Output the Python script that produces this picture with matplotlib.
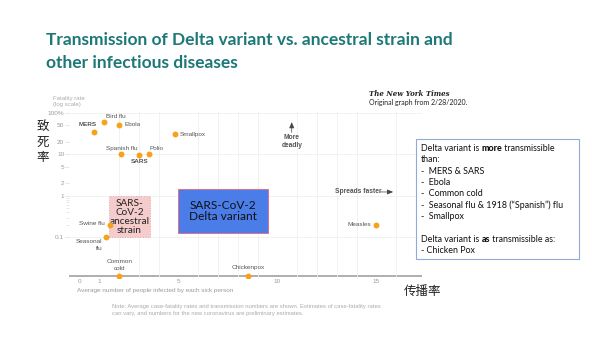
import numpy as np
import matplotlib
matplotlib.use('Agg')
import matplotlib.pyplot as plt
from matplotlib.patches import Rectangle
from matplotlib.ticker import FixedLocator, NullFormatter

# data (transmission number, fatality rate %)
diseases = ['MERS', 'Bird flu', 'Ebola', 'Smallpox', 'Spanish flu', 'SARS', 'Polio',
            'Swine flu', 'Seasonal\nflu', 'Common\ncold', 'Chickenpox', 'Measles']
spread = [0.7, 1.2, 2.0, 4.8, 2.1, 3.0, 3.5, 1.5, 1.3, 2.0, 8.5, 15.0]
fatality = [35, 60, 52, 31, 10, 9.5, 10, 0.2, 0.1, 0.012, 0.012, 0.2]
near_zero = 0.012

# label placement (offset in pixels, alignment)
lab_off = [(3, 7), (2, 6), (5, 0), (5, 0), (0, 6), (0, -6), (0, 6),
           (-5, 1), (-3, -2), (0, 5), (0, 8), (-5, 0)]
lab_ha = ['right', 'left', 'left', 'left', 'center', 'center', 'left',
          'right', 'right', 'center', 'center', 'right']
lab_va = ['center', 'center', 'center', 'center', 'center', 'center', 'center',
          'center', 'top', 'bottom', 'center', 'center']
bold_labels = ['MERS', 'SARS']

yticks = [0.1, 1, 2, 5, 10, 20, 50, 100]
yticklabels = ['0.1', '1', '2', '5', '10', '20', '50', '100%']
xticks = [0, 1, 5, 10, 15]

W, H = 614, 347
def fx(x):
    return x / W
def fy(y):
    return 1 - y / H

fig = plt.figure(figsize=(6.14, 3.47), dpi=100)
fig.patch.set_facecolor('white')

# axes placed so that x: 0 -> 80px, 19.75px/unit ; y: 100 -> 113px, 41.5px/decade
ax = fig.add_axes([fx(69.1), fy(278.1), (421.7 - 69.1) / W, (278.1 - 112.1) / H])
ax.set_xlim(-0.55, 17.3)
ax.set_yscale('log')
ax.set_ylim(0.0105, 105)
for s in ax.spines.values():
    s.set_visible(False)

ax.set_xticks(xticks)
ax.set_xticklabels([str(t) for t in xticks])
ax.xaxis.set_minor_locator(FixedLocator(range(0, 17)))
ax.xaxis.set_minor_formatter(NullFormatter())
ax.tick_params(axis='x', which='both', length=0, pad=0.5, labelsize=4.6, labelcolor='#9a9a9a')
ax.grid(axis='x', which='minor', color='#f0f0f0', lw=0.6)

ax.set_yticks(yticks)
ax.set_yticklabels(yticklabels)
ax.yaxis.set_minor_locator(FixedLocator([0.2, 0.3, 0.4, 0.5, 0.6, 0.7, 0.8, 0.9]))
ax.yaxis.set_minor_formatter(NullFormatter())
ax.tick_params(axis='y', which='major', length=3, width=0.5, color='#dddddd', pad=0.5,
               labelsize=4.6, labelcolor='#9a9a9a')
ax.tick_params(axis='y', which='minor', length=2, width=0.5, color='#dddddd')
for yv in [0.1, 1, 10, 100]:
    ax.axhline(yv, color='#f0f0f0', lw=0.6, zorder=0)

for t in ax.get_xticklabels() + ax.get_yticklabels():
    t.set_fontfamily('Liberation Sans')

# baseline for near-zero fatality
ax.axhline(near_zero, color='#a8a8a8', lw=1.3, zorder=1)

# boxes
ax.add_patch(Rectangle((1.47, 0.1), 3.54 - 1.47, 1.0 - 0.1, facecolor='#f4cccc',
                       edgecolor='#e9a5a5', lw=0.7, ls=':', zorder=2))
ax.text(2.5, 0.316, 'SARS-\nCoV-2\nancestral\nstrain', ha='center', va='center',
        fontsize=7.2, family='Lato', linespacing=1.0, color='#222222', zorder=3)
ax.add_patch(Rectangle((4.96, 0.128), 9.52 - 4.96, 1.47 - 0.128, facecolor='#4a7de8',
                       edgecolor='#e0708a', lw=0.7, zorder=2))
ax.text(7.24, 0.43, 'SARS-CoV-2\nDelta variant', ha='center', va='center',
        fontsize=8.6, family='Lato', linespacing=1.05, color='#111111', zorder=3)

ax.scatter(spread, fatality, s=18, color='#f7a21b', zorder=4, linewidths=0)
for i, name in enumerate(diseases):
    ax.annotate(name, (spread[i], fatality[i]), textcoords='offset pixels',
                xytext=lab_off[i], ha=lab_ha[i], va=lab_va[i], fontsize=4.6,
                family='Liberation Sans', color='#555555', linespacing=1.3,
                fontweight='bold' if name in bold_labels else 'normal', zorder=5)

# direction hints
arrow_kw = dict(arrowstyle='-|>,head_length=0.35,head_width=0.15', color='#444444', lw=0.5,
                shrinkA=0, shrinkB=0)
ax.annotate('', xy=(10.72, 60), xytext=(10.72, 34), arrowprops=arrow_kw)
ax.text(10.72, 31, 'More\ndeadly', ha='center', va='top', fontsize=4.8, fontweight='bold',
        color='#555555', family='Liberation Sans', linespacing=1.2)
ax.text(12.91, 1.25, 'Spreads faster', ha='left', va='center', fontsize=4.8,
        fontweight='bold', color='#555555', family='Liberation Sans')
ax.annotate('', xy=(15.85, 1.25), xytext=(15.2, 1.25), arrowprops=arrow_kw)

# figure texts
fig.text(fx(46), fy(40), 'Transmission of Delta variant vs. ancestral strain and',
         ha='left', va='center', fontsize=12.5, fontweight='bold', family='Lato', color='#1d7878')
fig.text(fx(46), fy(63), 'other infectious diseases',
         ha='left', va='center', fontsize=12.5, fontweight='bold', family='Lato', color='#1d7878')

fig.text(fx(53), fy(101.5), 'Fatality rate\n(log scale)', ha='left', va='center', fontsize=4.3,
         color='#aaaaaa', family='Liberation Sans', linespacing=1.3)
fig.text(fx(77), fy(290.7), 'Average number of people infected by each sick person', ha='left',
         va='center', fontsize=4.6, color='#9a9a9a', family='Liberation Sans')
fig.text(fx(112.3), fy(310), 'Note: Average case-fatality rates and transmission numbers are shown. '
         'Estimates of case-fatality rates\ncan vary, and numbers for the new coronavirus are '
         'preliminary estimates.', ha='left', va='center', fontsize=4.2, color='#aaaaaa',
         family='Liberation Sans', linespacing=1.4)

fig.text(fx(369.3), fy(94), 'The New York Times', ha='left', va='center', fontsize=5,
         family='DejaVu Serif', fontweight='bold', fontstyle='italic', color='#222222')
fig.text(fx(369.3), fy(102.3), 'Original graph from 2/28/2020.', ha='left', va='center',
         fontsize=5, family='Lato', color='#222222')

fig.text(fx(42.3), fy(142.3), '致\n死\n率', ha='center', va='center', fontsize=9,
         family='Noto Sans CJK SC', color='#222222', linespacing=1.25)
fig.text(fx(404), fy(291.7), '传播率', ha='left', va='center', fontsize=9,
         family='Noto Sans CJK SC', color='#222222')

# right text box
fig.patches.append(Rectangle((fx(416), fy(259)), (579 - 416) / W, (259 - 139) / H,
                             transform=fig.transFigure, facecolor='white',
                             edgecolor='#8faadc', lw=0.8))
box_lines = [['Delta variant is ', ('more', 'black'), ' transmissible'], ['than:'],
             ['-  MERS & SARS'], ['-  Ebola'], ['-  Common cold'],
             ['-  Seasonal flu & 1918 (\u201cSpanish\u201d) flu'], ['-  Smallpox'], [],
             ['Delta variant is ', ('as', 'black'), ' transmissible as:'], ['- Chicken Pox']]
renderer = fig.canvas.get_renderer()
for i, parts in enumerate(box_lines):
    x = 421
    for part in parts:
        if isinstance(part, tuple):
            txt, weight = part
        else:
            txt, weight = part, 'normal'
        t = fig.text(fx(x), fy(148.3 + 11.4 * i), txt, ha='left', va='center',
                     fontsize=6.4, family='Lato', fontweight=weight, color='#111111')
        x += t.get_window_extent(renderer).width

fig.savefig('out.png', dpi=100)
